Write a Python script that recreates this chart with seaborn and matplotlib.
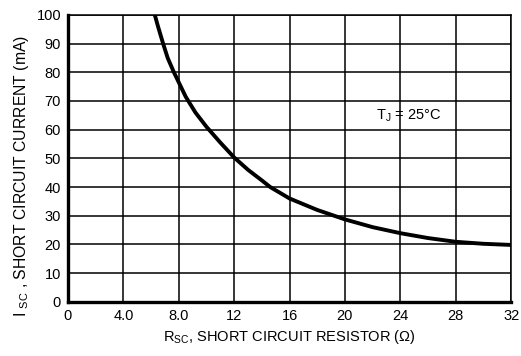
import matplotlib
matplotlib.use("Agg")
import matplotlib.pyplot as plt
import seaborn as sns
import pandas as pd

# Data
r_sc = [6.27, 6.5, 6.87, 7.2, 7.65, 8.0, 8.5, 9.2, 10.0, 11.0, 12.0, 13.0,
        14.0, 14.6, 16.0, 18.0, 20.0, 22.0, 24.0, 26.0, 28.0, 30.0, 32.0]
i_sc = [100, 96, 90, 85, 80, 76.5, 71.5, 66, 61, 55.5, 50.3, 46,
        42.3, 40, 36, 32, 28.7, 26, 23.9, 22.2, 20.9, 20.2, 19.8]
x_ticks = [0, 4, 8, 12, 16, 20, 24, 28, 32]
x_tick_labels = ["0", "4.0", "8.0", "12", "16", "20", "24", "28", "32"]
y_ticks = [0, 10, 20, 30, 40, 50, 60, 70, 80, 90, 100]

sns.set_theme(style="white")
plt.rcParams['font.family'] = ['Liberation Sans', 'DejaVu Sans']
plt.rcParams['mathtext.fontset'] = 'custom'
plt.rcParams['mathtext.rm'] = 'Liberation Sans'

df = pd.DataFrame({"R": r_sc, "I": i_sc})

fig = plt.figure(figsize=(5.21, 3.56), dpi=100)
ax = fig.add_axes([0.1305, 0.1525, 0.8505, 0.8055])

sns.lineplot(data=df, x="R", y="I", ax=ax, color="black", linewidth=2.8)

ax.set_xlim(0, 32)
ax.set_ylim(0, 100)
ax.set_xticks(x_ticks)
ax.set_xticklabels(x_tick_labels)
ax.set_yticks(y_ticks)
ax.grid(True, color="black", linewidth=1.1)
ax.set_axisbelow(True)

for s in ["top", "right"]:
    ax.spines[s].set_visible(True)
    ax.spines[s].set_linewidth(1.1)
    ax.spines[s].set_color("black")
for s in ["left", "bottom"]:
    ax.spines[s].set_linewidth(2.4)
    ax.spines[s].set_color("black")

ax.tick_params(axis="both", length=0, labelsize=10.5, colors="black", pad=5)

ax.set_xlabel(r"R$_{\mathregular{SC}}$, SHORT CIRCUIT RESISTOR ($\Omega$)", fontsize=10.5,
              color="black", labelpad=4)
ax.set_ylabel(r"$\mathregular{I}$ $_{\mathregular{SC}}$ , SHORT CIRCUIT CURRENT (mA)", fontsize=11.3,
              color="black")
ax.yaxis.set_label_coords(-0.083, 0.44)

ax.text(24.6, 65, r"T$_{\mathregular{J}}$ = 25°C", fontsize=10.5, color="black",
        ha="center", va="center")

fig.savefig("out.png", dpi=100)
